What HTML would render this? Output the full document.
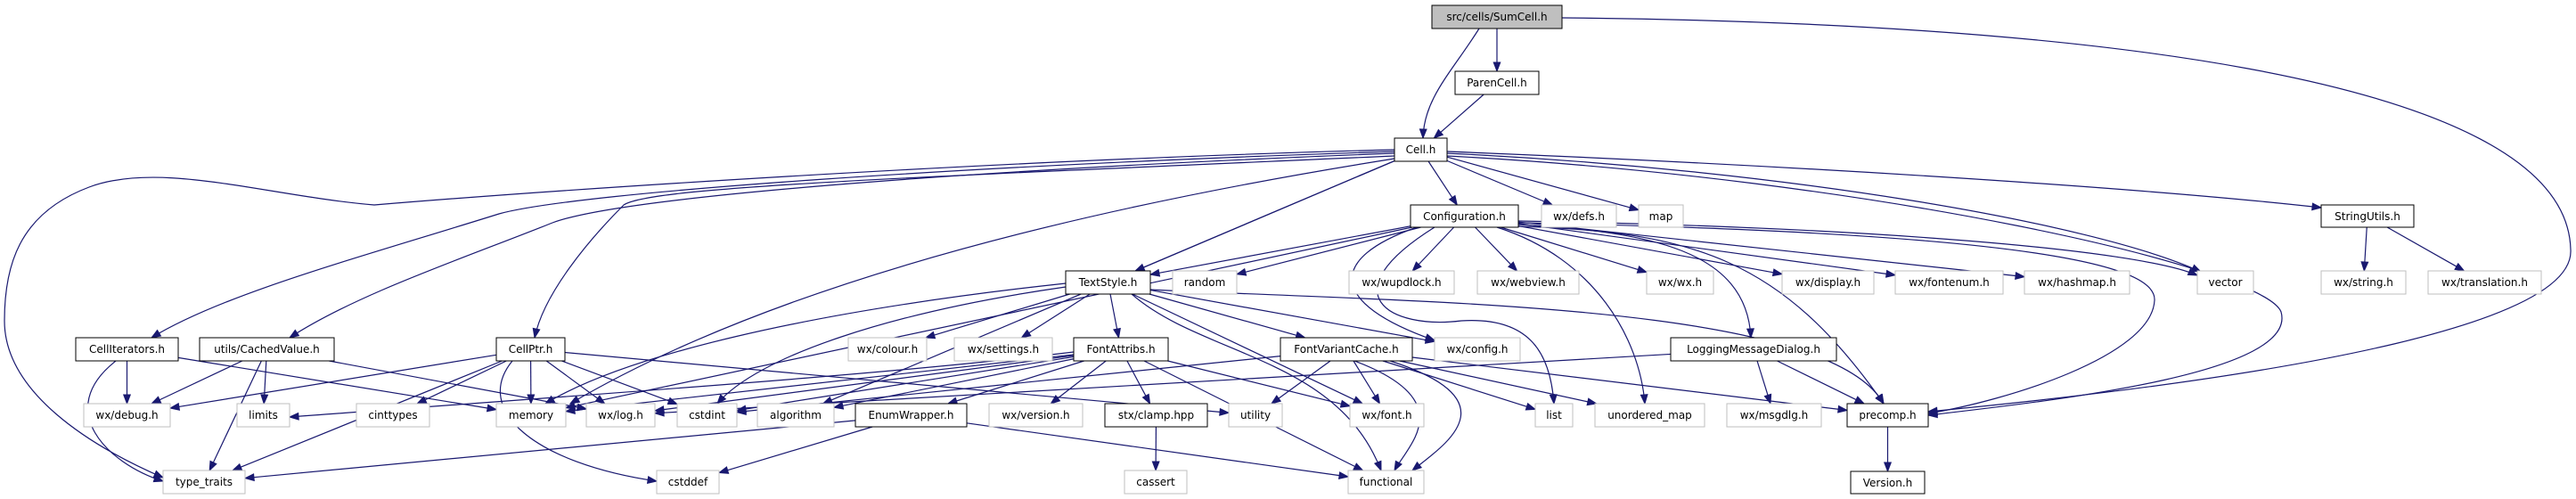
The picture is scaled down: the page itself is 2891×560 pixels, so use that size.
<!DOCTYPE html>
<html><head><meta charset="utf-8">
<style>
html,body{margin:0;padding:0;background:#fff;}
svg{display:block;}
text{font-family:"DejaVu Sans","Liberation Sans",sans-serif;font-size:12px;fill:#000;}
</style></head>
<body>
<svg id="g" width="2891" height="560" viewBox="0 0 2891 560" xmlns="http://www.w3.org/2000/svg">
<g id="edges" fill="none" stroke="#191970" stroke-width="1.2"></g>
<g id="heads" fill="#191970" stroke="#191970"></g>
<g id="nodes">
<rect x="1607" y="6" width="146" height="26" fill="#bfbfbf" stroke="#000"/><text x="1680" y="23" text-anchor="middle">src/cells/SumCell.h</text>
<rect x="1633" y="80" width="94" height="26" fill="#fff" stroke="#000"/><text x="1680" y="97" text-anchor="middle">ParenCell.h</text>
<rect x="1565" y="155" width="59" height="26" fill="#fff" stroke="#000"/><text x="1594.5" y="172" text-anchor="middle">Cell.h</text>
<rect x="1583" y="230" width="121" height="25" fill="#fff" stroke="#000"/><text x="1643.5" y="247" text-anchor="middle">Configuration.h</text>
<rect x="1730" y="230" width="84" height="25" fill="#fff" stroke="#bfbfbf"/><text x="1772" y="247" text-anchor="middle">wx/defs.h</text>
<rect x="1839" y="230" width="50" height="25" fill="#fff" stroke="#bfbfbf"/><text x="1864" y="247" text-anchor="middle">map</text>
<rect x="2605" y="230" width="104" height="25" fill="#fff" stroke="#000"/><text x="2657" y="247" text-anchor="middle">StringUtils.h</text>
<rect x="1196" y="304" width="95" height="26" fill="#fff" stroke="#000"/><text x="1243.5" y="321" text-anchor="middle">TextStyle.h</text>
<rect x="1316" y="304" width="72" height="26" fill="#fff" stroke="#bfbfbf"/><text x="1352" y="321" text-anchor="middle">random</text>
<rect x="1514" y="304" width="118" height="26" fill="#fff" stroke="#bfbfbf"/><text x="1573" y="321" text-anchor="middle">wx/wupdlock.h</text>
<rect x="1658" y="304" width="114" height="26" fill="#fff" stroke="#bfbfbf"/><text x="1715" y="321" text-anchor="middle">wx/webview.h</text>
<rect x="1848" y="304" width="75" height="26" fill="#fff" stroke="#bfbfbf"/><text x="1885.5" y="321" text-anchor="middle">wx/wx.h</text>
<rect x="2000" y="304" width="103" height="26" fill="#fff" stroke="#bfbfbf"/><text x="2051.5" y="321" text-anchor="middle">wx/display.h</text>
<rect x="2127" y="304" width="121" height="26" fill="#fff" stroke="#bfbfbf"/><text x="2187.5" y="321" text-anchor="middle">wx/fontenum.h</text>
<rect x="2272" y="304" width="118" height="26" fill="#fff" stroke="#bfbfbf"/><text x="2331" y="321" text-anchor="middle">wx/hashmap.h</text>
<rect x="2466" y="304" width="63" height="26" fill="#fff" stroke="#bfbfbf"/><text x="2497.5" y="321" text-anchor="middle">vector</text>
<rect x="2605" y="304" width="95" height="26" fill="#fff" stroke="#bfbfbf"/><text x="2652.5" y="321" text-anchor="middle">wx/string.h</text>
<rect x="2725" y="304" width="127" height="26" fill="#fff" stroke="#bfbfbf"/><text x="2788.5" y="321" text-anchor="middle">wx/translation.h</text>
<rect x="85" y="379" width="115" height="26" fill="#fff" stroke="#000"/><text x="142.5" y="396" text-anchor="middle">CellIterators.h</text>
<rect x="224" y="379" width="151" height="26" fill="#fff" stroke="#000"/><text x="299.5" y="396" text-anchor="middle">utils/CachedValue.h</text>
<rect x="557" y="379" width="77" height="26" fill="#fff" stroke="#000"/><text x="595.5" y="396" text-anchor="middle">CellPtr.h</text>
<rect x="952" y="379" width="88" height="26" fill="#fff" stroke="#bfbfbf"/><text x="996" y="396" text-anchor="middle">wx/colour.h</text>
<rect x="1071" y="379" width="110" height="26" fill="#fff" stroke="#bfbfbf"/><text x="1126" y="396" text-anchor="middle">wx/settings.h</text>
<rect x="1205" y="379" width="106" height="26" fill="#fff" stroke="#000"/><text x="1258" y="396" text-anchor="middle">FontAttribs.h</text>
<rect x="1437" y="379" width="148" height="26" fill="#fff" stroke="#000"/><text x="1511" y="396" text-anchor="middle">FontVariantCache.h</text>
<rect x="1610" y="379" width="96" height="26" fill="#fff" stroke="#bfbfbf"/><text x="1658" y="396" text-anchor="middle">wx/config.h</text>
<rect x="1875" y="379" width="186" height="26" fill="#fff" stroke="#000"/><text x="1968" y="396" text-anchor="middle">LoggingMessageDialog.h</text>
<rect x="94" y="453" width="97" height="26" fill="#fff" stroke="#bfbfbf"/><text x="142.5" y="470" text-anchor="middle">wx/debug.h</text>
<rect x="266" y="453" width="59" height="26" fill="#fff" stroke="#bfbfbf"/><text x="295.5" y="470" text-anchor="middle">limits</text>
<rect x="400" y="453" width="82" height="26" fill="#fff" stroke="#bfbfbf"/><text x="441" y="470" text-anchor="middle">cinttypes</text>
<rect x="557" y="453" width="78" height="26" fill="#fff" stroke="#bfbfbf"/><text x="596" y="470" text-anchor="middle">memory</text>
<rect x="658" y="453" width="77" height="26" fill="#fff" stroke="#bfbfbf"/><text x="696.5" y="470" text-anchor="middle">wx/log.h</text>
<rect x="760" y="453" width="67" height="26" fill="#fff" stroke="#bfbfbf"/><text x="793.5" y="470" text-anchor="middle">cstdint</text>
<rect x="850" y="453" width="86" height="26" fill="#fff" stroke="#bfbfbf"/><text x="893" y="470" text-anchor="middle">algorithm</text>
<rect x="960" y="453" width="125" height="26" fill="#fff" stroke="#000"/><text x="1022.5" y="470" text-anchor="middle">EnumWrapper.h</text>
<rect x="1110" y="453" width="105" height="26" fill="#fff" stroke="#bfbfbf"/><text x="1162.5" y="470" text-anchor="middle">wx/version.h</text>
<rect x="1240" y="453" width="115" height="26" fill="#fff" stroke="#000"/><text x="1297.5" y="470" text-anchor="middle">stx/clamp.hpp</text>
<rect x="1379" y="453" width="60" height="26" fill="#fff" stroke="#bfbfbf"/><text x="1409" y="470" text-anchor="middle">utility</text>
<rect x="1515" y="453" width="83" height="26" fill="#fff" stroke="#bfbfbf"/><text x="1556.5" y="470" text-anchor="middle">wx/font.h</text>
<rect x="1723" y="453" width="42" height="26" fill="#fff" stroke="#bfbfbf"/><text x="1744" y="470" text-anchor="middle">list</text>
<rect x="1790" y="453" width="123" height="26" fill="#fff" stroke="#bfbfbf"/><text x="1851.5" y="470" text-anchor="middle">unordered_map</text>
<rect x="1938" y="453" width="106" height="26" fill="#fff" stroke="#bfbfbf"/><text x="1991" y="470" text-anchor="middle">wx/msgdlg.h</text>
<rect x="2073" y="453" width="91" height="26" fill="#fff" stroke="#000"/><text x="2118.5" y="470" text-anchor="middle">precomp.h</text>
<rect x="183" y="528" width="92" height="26" fill="#fff" stroke="#bfbfbf"/><text x="229" y="545" text-anchor="middle">type_traits</text>
<rect x="737" y="528" width="70" height="26" fill="#fff" stroke="#bfbfbf"/><text x="772" y="545" text-anchor="middle">cstddef</text>
<rect x="1262" y="528" width="70" height="26" fill="#fff" stroke="#bfbfbf"/><text x="1297" y="545" text-anchor="middle">cassert</text>
<rect x="1513" y="528" width="85" height="26" fill="#fff" stroke="#bfbfbf"/><text x="1555.5" y="545" text-anchor="middle">functional</text>
<rect x="2077" y="529" width="83" height="25" fill="#fff" stroke="#000"/><text x="2118.5" y="546" text-anchor="middle">Version.h</text>
</g>
</svg>
<script>
var N={sum:[1607,6,1753,32],paren:[1633,80,1727,106],cell:[1565,155,1624,181],conf:[1583,230,1704,255],defs:[1730,230,1814,255],map:[1839,230,1889,255],su:[2605,230,2709,255],ts:[1196,304,1291,330],random:[1316,304,1388,330],wup:[1514,304,1632,330],web:[1658,304,1772,330],wx:[1848,304,1923,330],disp:[2000,304,2103,330],fenum:[2127,304,2248,330],hash:[2272,304,2390,330],vector:[2466,304,2529,330],str:[2605,304,2700,330],tr:[2725,304,2852,330],ci:[85,379,200,405],cv:[224,379,375,405],cp:[557,379,634,405],col:[952,379,1040,405],set:[1071,379,1181,405],fa:[1205,379,1311,405],fvc:[1437,379,1585,405],cfg:[1610,379,1706,405],lmd:[1875,379,2061,405],dbg:[94,453,191,479],lim:[266,453,325,479],cint:[400,453,482,479],mem:[557,453,635,479],log:[658,453,735,479],cstdint:[760,453,827,479],alg:[850,453,936,479],ew:[960,453,1085,479],ver:[1110,453,1215,479],clamp:[1240,453,1355,479],util:[1379,453,1439,479],font:[1515,453,1598,479],list:[1723,453,1765,479],um:[1790,453,1913,479],msg:[1938,453,2044,479],pre:[2073,453,2164,479],tt:[183,528,275,554],cdef:[737,528,807,554],cas:[1262,528,1332,554],func:[1513,528,1598,554],version:[2077,529,2160,554]};
var straight=[["sum","paren"],["paren","cell"],["cell","conf"],["cell","defs"],["cell","map"],["conf","ts"],["conf","random"],["conf","wup"],["conf","web"],["conf","wx"],["conf","disp"],["conf","fenum"],["conf","hash"],["conf","mem"],["ts","col"],["ts","set"],["ts","fa"],["ts","fvc"],["ts","cfg"],["ts","font"],["fa","ew"],["fa","ver"],["fa","clamp"],["fa","font"],["fa","mem"],["fa","log"],["fa","cstdint"],["fa","alg"],["fa","func"],["fvc","util"],["fvc","font"],["fvc","list"],["fvc","um"],["fvc","cstdint"],["fvc","pre"],["lmd","msg"],["lmd","pre"],["lmd","log"],["cp","dbg"],["cp","tt"],["cp","cint"],["cp","mem"],["cp","log"],["cp","cstdint"],["cp","util"],["ci","dbg"],["ci","mem"],["cv","dbg"],["cv","lim"],["cv","tt"],["cv","log"],["ew","tt"],["ew","cdef"],["ew","func"],["clamp","cas"],["pre","version"],["su","str"],["su","tr"],["cell","ts"],["cell","alg"]];
var curves=[
"M1660,32 C1630,80 1598,110 1597,155",
"M1753,20 C2300,25 2880,80 2885,280 C2890,360 2600,420 2164,462",
"M1565,168 C1100,180 600,215 420,230 C300,220 180,180 100,210 C20,240 5,300 5,360 C5,440 100,500 183,536",
"M1565,170 C1100,185 650,215 560,240 C400,290 250,330 170,379",
"M1565,172 C1100,190 700,220 620,250 C520,290 400,330 325,379",
"M1565,175 C1000,200 730,210 700,230 C660,270 610,330 600,379",
"M1565,178 C1300,220 900,300 640,453",
"M1624,170 C2000,185 2400,210 2605,233",
"M1624,172 C2000,190 2350,250 2470,305",
"M1624,175 C2100,200 2540,300 2560,350 C2580,420 2300,450 2164,466",
"M1704,250 C2300,262 2420,300 2418,337 C2415,400 2250,450 2164,464",
"M1704,248 C2100,255 2400,280 2466,309",
"M1704,252 C1850,260 1960,280 1965,379",
"M1704,254 C1900,260 2000,290 2114,453",
"M1680,255 C1790,290 1840,380 1846,453",
"M1590,255 C1490,290 1490,340 1610,382",
"M1610,255 C1490,330 1560,370 1640,360 C1720,355 1740,400 1744,453",
"M1291,325 C1600,340 2050,340 2114,453",
"M1196,318 C900,350 700,400 612,453",
"M1196,322 C1000,350 850,400 805,453",
"M1270,330 C1350,400 1500,400 1550,528",
"M1520,405 C1640,450 1580,500 1565,528",
"M1560,405 C1700,450 1620,500 1585,528",
"M575,405 C530,460 600,520 737,540",
"M130,405 C60,460 120,520 183,540",
"M1205,395 C1000,420 700,440 325,468"
];
var E=document.getElementById("edges"),H=document.getElementById("heads"),ns="http://www.w3.org/2000/svg";
function c(b){return[(b[0]+b[2])/2,(b[1]+b[3])/2];}
function clip(b,tx,ty){var p=c(b),dx=tx-p[0],dy=ty-p[1],hw=(b[2]-b[0])/2,hh=(b[3]-b[1])/2;var t=Math.min(dx?hw/Math.abs(dx):1e9,dy?hh/Math.abs(dy):1e9);return[p[0]+dx*t,p[1]+dy*t];}
function head(fx,fy,x,y){var dx=x-fx,dy=y-fy,l=Math.hypot(dx,dy)||1;dx/=l;dy/=l;var L=10,W=3.8,bx=x-dx*L,by=y-dy*L;var p=document.createElementNS(ns,"polygon");p.setAttribute("points",x+","+y+" "+(bx-dy*W)+","+(by+dx*W)+" "+(bx+dy*W)+","+(by-dx*W));H.appendChild(p);return[bx,by];}
straight.forEach(function(e){var a=N[e[0]],b=N[e[1]],ca=c(a),cb=c(b);var s=clip(a,cb[0],cb[1]),t=clip(b,ca[0],ca[1]);var bb=head(s[0],s[1],t[0],t[1]);var l=document.createElementNS(ns,"path");l.setAttribute("d","M"+s[0]+","+s[1]+" L"+bb[0]+","+bb[1]);E.appendChild(l);});
curves.forEach(function(d){var n=d.match(/-?[\d.]+/g).map(Number);var x=n[n.length-2],y=n[n.length-1],fx=n[n.length-4],fy=n[n.length-3];head(fx,fy,x,y);var l=document.createElementNS(ns,"path");l.setAttribute("d",d);E.appendChild(l);});
</script>
</body></html>
